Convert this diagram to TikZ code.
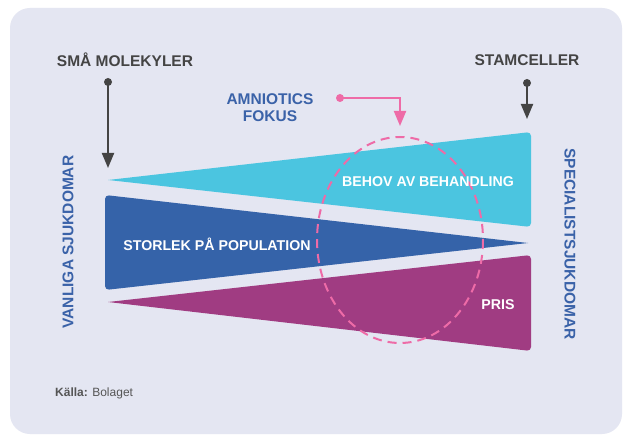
\documentclass[tikz,border=0pt]{standalone}
\usepackage{fontspec}
\setmainfont{Liberation Sans}
\usetikzlibrary{arrows.meta}
\definecolor{bgc}{HTML}{E4E6F2}
\definecolor{cyanc}{HTML}{4BC5E0}
\definecolor{bluec}{HTML}{3563A9}
\definecolor{purplec}{HTML}{A03C82}
\definecolor{pinkc}{HTML}{EE6BA7}
\definecolor{darkc}{HTML}{444444}
\definecolor{textblue}{HTML}{3A62A8}
\definecolor{grayc}{HTML}{555555}
\tikzset{
  toplabel/.style={font=\fontsize{15.5}{18}\selectfont\bfseries, text=darkc, inner sep=0pt},
  bluelabel/.style={font=\fontsize{15.5}{18}\selectfont\bfseries, text=textblue, inner sep=0pt, align=center},
  whitelabel/.style={font=\fontsize{14.2}{17}\selectfont\bfseries, text=white, inner sep=0pt},
  darkarrow/.style={draw=darkc, line width=2pt, -{Triangle[width=12pt,length=15pt]}},
  pinkarrow/.style={draw=pinkc, line width=2pt, -{Triangle[width=12pt,length=15pt]}},
  dot/.style={circle, inner sep=0pt, minimum size=8pt},
}
\begin{document}
\begin{tikzpicture}[x=1pt,y=-1pt]
\useasboundingbox (0,0) rectangle (623,435);
\fill[white] (0,0) rectangle (623,435);
\fill[bgc, rounded corners=20pt] (10,8) rectangle (622,434);

% wedges
\fill[cyanc] (108,180) [rounded corners=4pt] -- (531,132) -- (531,227) [sharp corners] -- cycle;
\fill[bluec] (528,243) [rounded corners=4pt] -- (105,195) -- (105,290) [sharp corners] -- cycle;
\fill[purplec] (108,302) [rounded corners=4pt] -- (531,255) -- (531,351) [sharp corners] -- cycle;

% ellipse
\draw[pinkc, line width=2pt, dash pattern=on 9pt off 6pt] (400,240) ellipse [x radius=83, y radius=103];
\coordinate (ellipsetop) at (400,134);

% labels inside
\node[whitelabel] (behov) at (428,182) {BEHOV AV BEHANDLING};
\node[whitelabel] (storlek) at (217,244) {STORLEK PÅ POPULATION};
\node[whitelabel] (pris) at (498,305) {PRIS};

% top labels and arrows
\node[toplabel] (sma) at (125,60) {SMÅ MOLEKYLER};
\node[toplabel] (stam) at (527,60) {STAMCELLER};
\node[dot, fill=darkc] (smadot) at (108,82) {};
\node[dot, fill=darkc] (stamdot) at (527,83) {};
\coordinate (smaend) at (108,168);
\coordinate (stamend) at (527,119);
\draw[darkarrow] (smadot.center) -- (smaend);
\draw[darkarrow] (stamdot.center) -- (stamend);

\node[bluelabel] (amn) at (270,108) {AMNIOTICS\\[-1pt]FOKUS};
\node[dot, fill=pinkc] (amndot) at (340,98) {};
\coordinate (amnend) at (400,126);
\draw[pinkarrow] (amndot.center) -| (amnend);

% side labels
\node[bluelabel, rotate=90] (vanliga) at (68,242) {VANLIGA SJUKDOMAR};
\node[bluelabel, rotate=-90] (spec) at (570,244) {SPECIALISTSJUKDOMAR};

% source
\node[anchor=west, inner sep=0pt, text=grayc, font=\fontsize{12}{14}\selectfont] (kalla) at (55,393) {\textbf{Källa:} Bolaget};
\end{tikzpicture}
\end{document}
